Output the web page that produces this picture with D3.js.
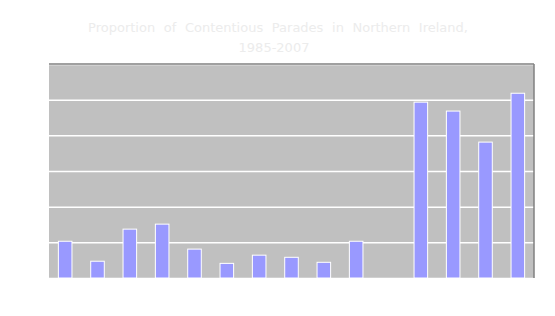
<!DOCTYPE html>
<html>
<head>
<meta charset="utf-8">
<script src="https://cdn.jsdelivr.net/npm/d3@7"></script>
<style>
  body { margin: 0; background: #ffffff; }
  svg { display: block; font-family: "DejaVu Sans", Verdana, sans-serif; }
</style>
</head>
<body>
<svg id="canvas" width="555" height="316"></svg>
<script>
// categories (labels are drawn white, as in the original)
let years = ["1985", "1986", "1987", "1988", "1989", "1990", "1991", "1992",
  "1993", "1994", "1995", "1996", "1997", "1998", "1999"];
// proportion of contentious parades (%), 1995 has no bar
let share = [10.3, 4.7, 13.7, 15.1, 8.1, 4.1, 6.4, 5.8, 4.4, 10.3, 0, 49.3, 46.8, 38.1, 51.8];
let yTicks = [0, 10, 20, 30, 40, 50, 60];
let titleLines = ["Proportion of Contentious Parades in Northern Ireland,", "1985-2007"];

let canvas = d3.select("#canvas");

let margin = { left: 49, right: 21, top: 64, bottom: 38 };
let width = 555 - margin.left - margin.right;
let height = 316 - margin.top - margin.bottom;

let x = d3.scaleBand().domain(years).range([0, width]).paddingInner(0.58).paddingOuter(0.29);
let y = d3.scaleLinear().domain([0, 60]).range([height, 0]);

let g = canvas.append("g").attr("transform", "translate(" + margin.left + "," + margin.top + ")");

// plot background
g.append("rect")
  .attr("width", width)
  .attr("height", height)
  .attr("fill", "#c0c0c0");

// gridlines
g.append("g")
  .call(d3.axisLeft(y).tickValues(yTicks).tickSize(-width).tickFormat(""))
  .call((a) => a.select(".domain").remove())
  .call((a) => a.selectAll("line").attr("stroke", "#ffffff").attr("stroke-width", 1.5));

// top and right border
g.append("line").attr("x1", 0).attr("x2", width).attr("y1", 0).attr("y2", 0)
  .attr("stroke", "#808080").attr("stroke-width", 1.5);
g.append("line").attr("x1", width).attr("x2", width).attr("y1", 0).attr("y2", height)
  .attr("stroke", "#808080").attr("stroke-width", 1.5);

// bars
g.selectAll(".bar")
  .data(years.filter((d, i) => share[i] > 0))
  .enter()
  .append("rect")
  .attr("class", "bar")
  .attr("x", (d) => x(d))
  .attr("width", x.bandwidth())
  .attr("y", (d) => y(share[years.indexOf(d)]))
  .attr("height", (d) => height - y(share[years.indexOf(d)]))
  .attr("fill", "#9999ff")
  .attr("stroke", "#ffffff")
  .attr("stroke-width", 1);

// axis labels (white on white, as in the original)
g.append("g")
  .attr("transform", "translate(0," + height + ")")
  .call(d3.axisBottom(x).tickSize(0).tickPadding(6))
  .call((a) => a.select(".domain").remove())
  .call((a) => a.selectAll("text").attr("fill", "#ffffff").style("font-size", "10px"));
g.append("g")
  .call(d3.axisLeft(y).tickValues(yTicks).tickSize(0).tickPadding(6))
  .call((a) => a.select(".domain").remove())
  .call((a) => a.selectAll("text").attr("fill", "#ffffff").style("font-size", "10px"));

// title
canvas.selectAll(".title")
  .data(titleLines)
  .enter()
  .append("text")
  .attr("class", "title")
  .attr("x", (d, i) => (i === 0 ? 278 : 274))
  .attr("y", (d, i) => 32 + i * 20)
  .attr("text-anchor", "middle")
  .attr("fill", "#ececec")
  .style("font-size", "13px")
  .style("word-spacing", (d, i) => (i === 0 ? "4.5px" : "0px"))
  .text((d) => d);
</script>
</body>
</html>
